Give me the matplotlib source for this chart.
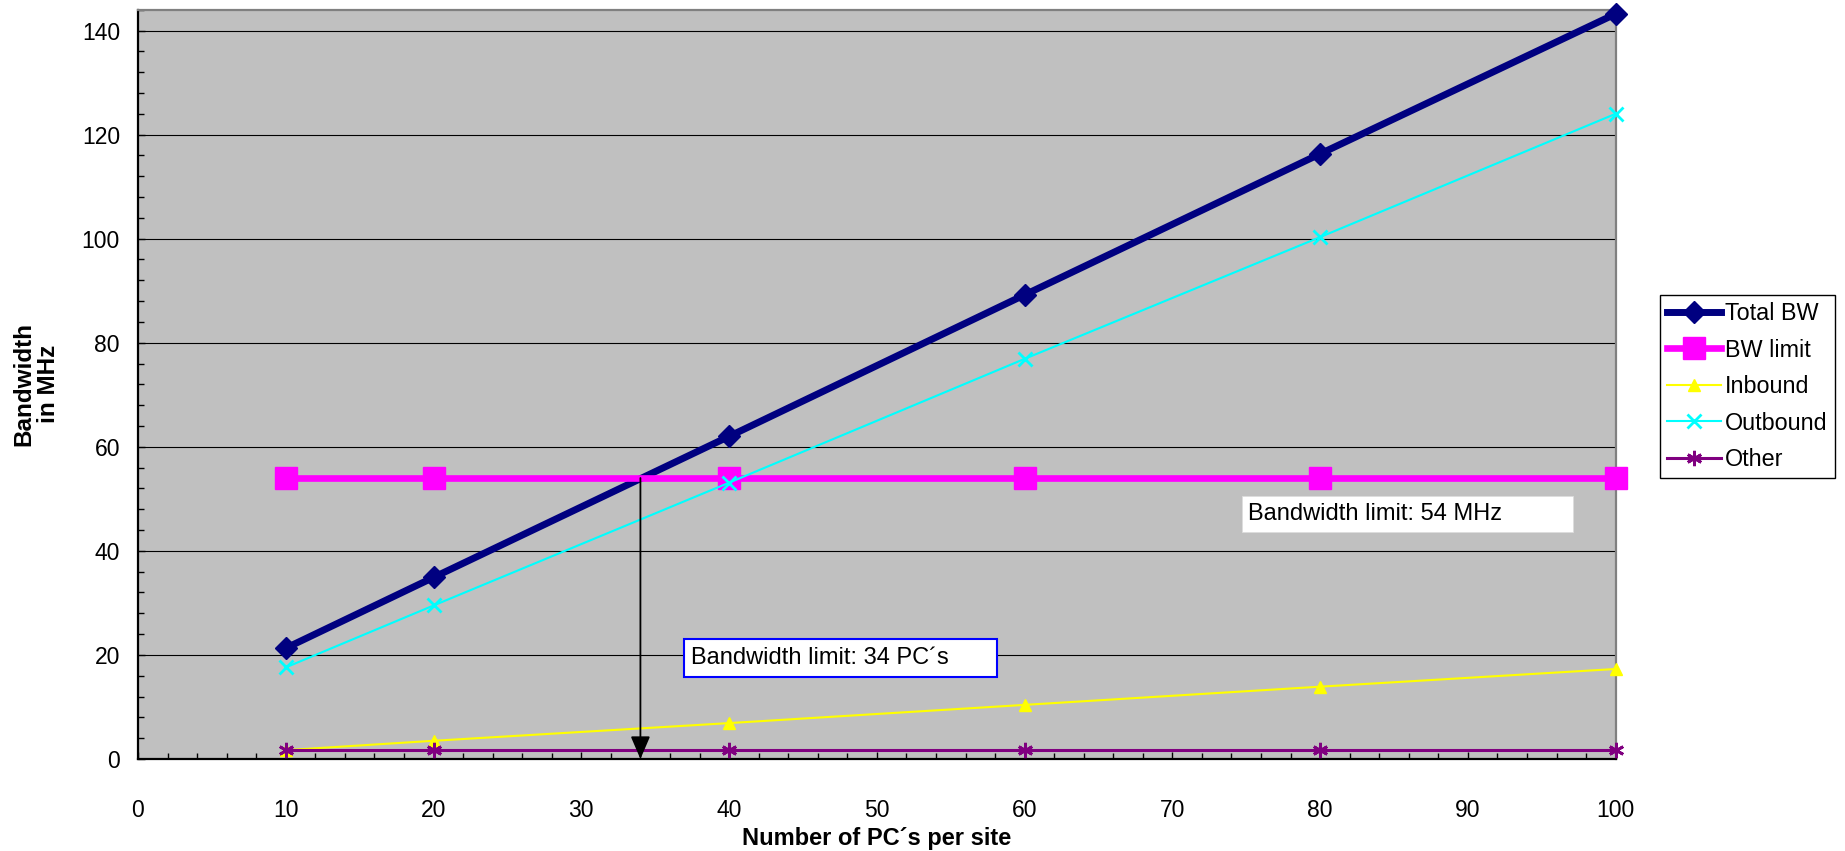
import matplotlib
matplotlib.use("Agg")
import matplotlib.pyplot as plt
from matplotlib.patches import Rectangle
from matplotlib.ticker import MultipleLocator

plt.rcParams['font.family'] = ['Liberation Sans', 'DejaVu Sans']

# Bandwidth demand per number of PCs at a site
pcs = [10, 20, 40, 60, 80, 100]
total_bw = [21.3, 34.9, 62.0, 89.2, 116.3, 143.2]
bw_limit = [54, 54, 54, 54, 54, 54]
inbound = [1.7, 3.5, 6.9, 10.4, 13.9, 17.3]
outbound = [17.6, 29.5, 53.1, 76.9, 100.3, 124.0]
other = [1.8, 1.8, 1.8, 1.8, 1.8, 1.8]

series_names = ["Total BW", "BW limit", "Inbound", "Outbound", "Other"]
limit_pcs = 34
limit_mhz = 54
limit_pcs_text = "Bandwidth limit: 34 PC\u00b4s"
limit_mhz_text = "Bandwidth limit: 54 MHz"

W, H = 1845, 851
fig = plt.figure(figsize=(W / 100, H / 100), dpi=100)
ax = fig.add_axes([138 / W, 1 - 759 / H, (1615.7 - 138) / W, (759 - 9.7) / H])
ax.set_facecolor("#C0C0C0")

ax.set_xlim(0, 100)
ax.set_ylim(0, 144)
ax.xaxis.set_major_locator(MultipleLocator(10))
ax.xaxis.set_minor_locator(MultipleLocator(2))
ax.yaxis.set_major_locator(MultipleLocator(20))
ax.yaxis.set_minor_locator(MultipleLocator(4))
ax.set_yticks(range(0, 141, 20))

ax.grid(axis="y", which="major", color="black", linewidth=0.8, zorder=1)
ax.set_axisbelow(True)

ax.tick_params(axis="both", which="both", direction="in", colors="black")
ax.tick_params(axis="both", which="major", length=5, width=1.0, labelsize=16.5)
ax.tick_params(axis="both", which="minor", length=4, width=1.0)
ax.tick_params(axis="y", which="major", pad=13)
ax.tick_params(axis="x", which="major", pad=29)

for side in ("left", "bottom"):
    ax.spines[side].set_color("black")
    ax.spines[side].set_linewidth(1.6)
for side in ("top", "right"):
    ax.spines[side].set_color("#808080")
    ax.spines[side].set_linewidth(1.6)

l1, = ax.plot(pcs, total_bw, color="#000080", lw=5.0, marker="D", ms=11.5,
              mec="#000080", zorder=3, clip_on=False, label=series_names[0])
l2, = ax.plot(pcs, bw_limit, color="#FF00FF", lw=4.8, marker="s", ms=16,
              mec="#FF00FF", zorder=4, clip_on=False, label=series_names[1])
l3, = ax.plot(pcs, inbound, color="#FFFF00", lw=1.5, marker="^", ms=9,
              mec="#FFFF00", zorder=5, clip_on=False, label=series_names[2])
l4, = ax.plot(pcs, outbound, color="#00FFFF", lw=1.5, marker="x", ms=10,
              mew=2, mec="#00FFFF", zorder=6, clip_on=False, label=series_names[3])
l5, = ax.plot(pcs, other, color="#800080", lw=2.2, marker=(6, 2, 0), ms=11,
              mew=2, mec="#800080", zorder=7, clip_on=False, label=series_names[4])

# Arrow from the intersection down to the x axis
ax.annotate("", xy=(limit_pcs, 0), xytext=(limit_pcs, limit_mhz),
            arrowprops=dict(arrowstyle="-|>,head_length=0.7,head_width=0.3",
                            color="black", lw=1.3, shrinkA=0, shrinkB=0,
                            mutation_scale=20),
            zorder=9)

# Text boxes
ax.add_patch(Rectangle((36.97, 15.70), 58.15 - 36.97, 23.06 - 15.70,
                       facecolor="white", edgecolor="#0000FF", lw=1.5, zorder=8))
ax.text(37.4, 19.4, limit_pcs_text, fontsize=17, ha="left", va="center", zorder=9)

ax.add_patch(Rectangle((74.71, 43.68), 97.13 - 74.71, 50.54 - 43.68,
                       facecolor="white", edgecolor="#DDDDDD", lw=0.6, zorder=8))
ax.text(75.12, 47.1, limit_mhz_text, fontsize=17, ha="left", va="center", zorder=9)

# Axis titles
fig.text(876.5 / W, 1 - 838 / H, "Number of PC\u00b4s per site", fontsize=17,
         fontweight="bold", ha="center", va="center")
fig.text(36 / W, 1 - 384 / H, "Bandwidth\nin MHz", fontsize=17.5, fontweight="bold",
         rotation=90, ha="center", va="center", multialignment="center",
         linespacing=1.1)

leg = fig.legend(handles=[l1, l2, l3, l4, l5], loc="upper left",
                 bbox_to_anchor=(1660 / W, 1 - 295 / H), borderaxespad=0,
                 fontsize=16.8, frameon=True, fancybox=False, edgecolor="black",
                 facecolor="white", framealpha=1, handlelength=2.3,
                 handletextpad=0.2, borderpad=0.3, labelspacing=0.58,
                 numpoints=1)
leg.get_frame().set_linewidth(1.0)

fig.savefig("out.png", dpi=100)
